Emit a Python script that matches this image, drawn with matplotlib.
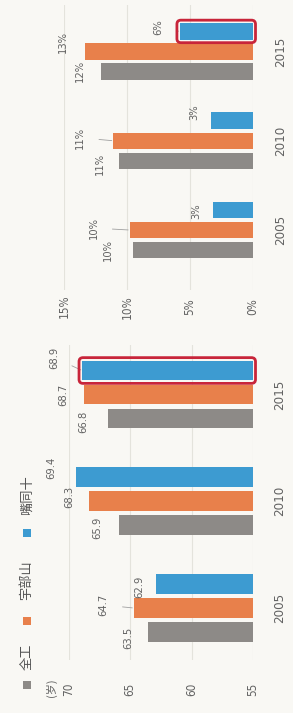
import matplotlib
matplotlib.use('Agg')
import matplotlib.pyplot as plt
from matplotlib.patches import FancyBboxPatch, Rectangle
from matplotlib.transforms import IdentityTransform

# ---------------- data ----------------
years = ['2005', '2010', '2015']
series_names = ['全工', '宇部山', '嘴同十']
age_unit = '(岁)'

age_gray = [63.5, 65.9, 66.8]
age_orange = [64.7, 68.3, 68.7]
age_blue = [62.9, 69.4, 68.9]
age_ticks = [55, 60, 65, 70]

share_gray = [9.5, 10.6, 12.1]
share_orange = [9.8, 11.1, 13.3]
share_blue = [3.2, 3.3, 5.8]
share_ticks = [0, 5, 10, 15]

# ---------------- style ----------------
W, H = 293, 713
BG = '#f9f8f4'
COLORS = ['#8d8a87', '#e8804b', '#3d9bd1']
TXT = '#626262'
RED = '#c8253a'
NUMFONT = dict(family=['DejaVu Sans', 'Noto Sans CJK SC'], fontstretch='condensed')
CJK = ['Noto Sans CJK SC', 'DejaVu Sans']

fig = plt.figure(figsize=(W / 100, H / 100), dpi=100, facecolor=BG)


def px_axes(left, right, top, bottom):
    return fig.add_axes([left / W, 1 - bottom / H, (right - left) / W, (bottom - top) / H])


PITCH = 0.225
BAR_H = 0.185

# label offsets (pixels: dx right, dy down) per series per year
age_offsets = [
    [(-20, 6), (-22, 3), (-25, 3)],
    [(-30, -3), (-20, -4), (-21, 0)],
    [(-17, 3), (-25, -9), (-28, -13)],
]
age_leaders = [[False] * 3, [True, False, False], [False, False, True]]
share_offsets = [
    [(-25, 0), (-20, 3), (-21, -1)],
    [(-36, -2), (-33, -3), (-23, -10)],
    [(-16, 1), (-17, -8), (-22, -4)],
]
share_leaders = [[False] * 3, [True, True, False], [False, False, True]]


def panel(ax, data, base, ticks, tick_fmt, lab_fmt, ylim, offsets, leaders, ytick_pad, xtick_pad):
    ax.set_facecolor('none')
    ax.set_xlim(ticks[-1], ticks[0])
    ax.set_ylim(*ylim)
    bars_all = []
    for s, (vals, col) in enumerate(zip(data, COLORS)):
        ys = [i + (s - 1) * PITCH for i in range(len(years))]
        bars = ax.barh(ys, [v - base for v in vals], left=base, height=BAR_H,
                       color=col, zorder=3)
        bars_all.append(bars)
        for i, (y, v) in enumerate(zip(ys, vals)):
            dx, dy = offsets[s][i]
            kw = {}
            if leaders[s][i]:
                kw['arrowprops'] = dict(arrowstyle='-', color='#a0a0a0', lw=0.6,
                                        shrinkA=8, shrinkB=1)
            ax.annotate(lab_fmt(v), xy=(v, y), xytext=(dx * 0.72, -dy * 0.72),
                        textcoords='offset points', rotation=90, ha='center',
                        va='center', fontsize=8, color=TXT, **NUMFONT, **kw)
    for sp in ax.spines.values():
        sp.set_visible(False)
    ax.set_xticks(ticks)
    ax.set_xticklabels([tick_fmt(t) for t in ticks], rotation=90, ha='center',
                       va='center', fontsize=8.5, color=TXT, **NUMFONT)
    ax.set_yticks(range(len(years)))
    ax.set_yticklabels(years, rotation=90, ha='center', va='center', fontsize=9.5,
                       color=TXT, **NUMFONT)
    ax.yaxis.tick_right()
    ax.tick_params(axis='x', length=0, pad=xtick_pad)
    ax.tick_params(axis='y', length=0, pad=ytick_pad)
    ax.xaxis.grid(True, color='#e4e3dc', lw=0.8, zorder=0)
    ax.set_axisbelow(True)
    return bars_all


ax_age = px_axes(68.5, 253, 345, 660)
age_bars = panel(ax_age, [age_gray, age_orange, age_blue], 55, age_ticks,
                 lambda t: f'{t}', lambda v: f'{v:.1f}', (-0.487, 2.464),
                 age_offsets, age_leaders, 19, 21)

ax_share = px_axes(64, 253, 5, 290)
share_bars = panel(ax_share, [share_gray, share_orange, share_blue], 0, share_ticks,
                   lambda t: f'{t}%', lambda v: f'{round(v)}%', (-0.672, 2.521),
                   share_offsets, share_leaders, 20, 12)

# unit label
fig.text(51 / W, 1 - 688 / H, age_unit, rotation=90, ha='center', va='center',
         fontsize=8, color=TXT, family=CJK)

# legend (manual, rotated)
leg_sq = [685, 621, 533]
leg_txt = [657, 580, 495]
for name, col, ysq, yt in zip(series_names, COLORS, leg_sq, leg_txt):
    fig.add_artist(Rectangle(((27 - 4) / W, 1 - (ysq + 4) / H), 8 / W, 8 / H,
                             transform=fig.transFigure, color=col, lw=0))
    fig.text(27 / W, 1 - yt / H, name, rotation=90, ha='center', va='center',
             fontsize=9.5, color='#555555', family=CJK)

# red highlight boxes around the 2015 blue bars
fig.canvas.draw()
renderer = fig.canvas.get_renderer()
for bars in (age_bars[2], share_bars[2]):
    bb = bars[-1].get_window_extent(renderer)
    x0, x1 = min(bb.x0, bb.x1) - 3, max(bb.x0, bb.x1) + 2.5
    y0, y1 = bb.y0 - 3, bb.y1 + 3
    fig.add_artist(FancyBboxPatch((x0, y0), x1 - x0, y1 - y0,
                                  boxstyle='round,pad=0,rounding_size=4',
                                  transform=IdentityTransform(), fill=False,
                                  ec=RED, lw=2.0, zorder=10))

fig.savefig('out.png', dpi=100, facecolor=BG)
